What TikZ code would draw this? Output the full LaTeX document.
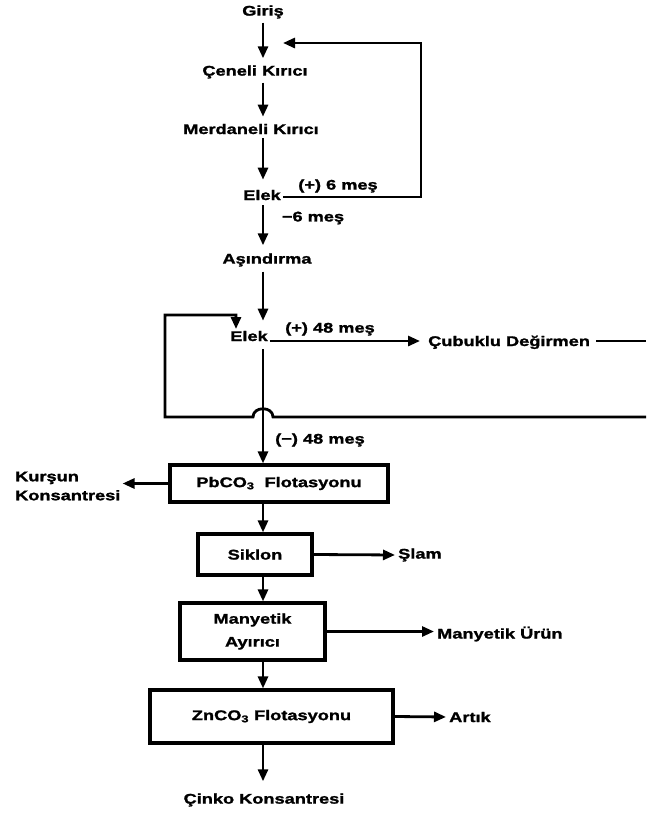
\documentclass[tikz,border=0pt]{standalone}
\usepackage{fontspec}
\setmainfont{Liberation Sans}[FakeStretch=1.3,FakeBold=1.5]
\usetikzlibrary{arrows.meta}
\begin{document}
\begin{tikzpicture}[x=1pt,y=-1pt,
  font=\fontsize{14}{16}\selectfont\bfseries,
  ln/.style={line width=2.8pt},
  arr/.style={ln,-{Triangle[length=12pt,width=10pt]}},
  box/.style={draw,line width=3.2pt,inner sep=0pt,align=center},
  lbl/.style={inner sep=0pt}]
\useasboundingbox (0,0) rectangle (646,817);
\coordinate (mx) at (263,0);
% text nodes
\node[lbl] (giris) at (263,12) {Giriş};
\node[lbl] (ceneli) at (255,72) {Çeneli Kırıcı};
\node[lbl] (merd) at (251,129) {Merdaneli Kırıcı};
\node[lbl,anchor=base] (elek1) at (262,200) {Elek};
\node[lbl] (p6) at (338,186) {(+) 6 meş};
\node[lbl] (m6) at (313,218) {−6 meş};
\node[lbl] (asind) at (267,260) {Aşındırma};
\node[lbl,anchor=base] (elek2) at (249,341) {Elek};
\node[lbl] (p48) at (330,329) {(+) 48 meş};
\node[lbl,anchor=base west] (cubuk) at (428,346) {Çubuklu Değirmen};
\node[lbl] (m48) at (320,440) {(−) 48 meş};
% boxes
\node[box,minimum width=218,minimum height=37] (pb) at (279,483.5) {PbCO\textsubscript{3}\ \ Flotasyonu};
\node[lbl,anchor=west,align=left] (kursun) at (15,486) {Kurşun\\[3pt]Konsantresi};
\node[box,minimum width=114,minimum height=41] (sk) at (255,554.5) {Siklon};
\node[lbl,anchor=west] (slam) at (398,555) {Şlam};
\node[box,minimum width=145,minimum height=57] (man) at (252.5,631.5) {Manyetik\\[7pt]Ayırıcı};
\node[lbl,anchor=west] (manu) at (437,634) {Manyetik Ürün};
\node[box,minimum width=243,minimum height=53] (zn) at (271.5,716.5) {ZnCO\textsubscript{3} Flotasyonu};
\node[lbl,anchor=west] (artik) at (449,717) {Artık};
\node[lbl] (cinko) at (264,800) {Çinko Konsantresi};
% coordinates for free ends
\coordinate (fb) at (421,43);
\coordinate (fbend) at (283,43);
\coordinate (redge1) at (646,341);
\coordinate (redge2) at (646,417);
\coordinate (loopend) at (236,329);
% connectors
\draw[arr,shorten <=4pt,shorten >=7pt] (giris.south -| mx) -- (ceneli.north -| mx);
\draw[arr,shorten <=4pt,shorten >=7pt] (ceneli.south -| mx) -- (merd.north -| mx);
\draw[arr,shorten <=4pt,shorten >=10pt] (merd.south -| mx) -- (elek1.north -| mx);
\draw[arr,shorten <=2pt] ([yshift=3pt]elek1.base east) -| (fb) -- (fbend);
\draw[arr,shorten <=5pt,shorten >=8pt] (elek1.south -| mx) -- (asind.north -| mx);
\draw[arr,shorten <=5pt,shorten >=10pt] (asind.south -| mx) -- (elek2.north -| mx);
\draw[arr,shorten <=2pt,shorten >=8pt] (elek2.base east) -- (cubuk.west |- elek2.base);
\draw[ln] ([xshift=6pt]cubuk.east |- redge1) -- (redge1);
\draw[arr] (redge2) -- (273,417) .. controls (273,406) and (253,406) .. (253,417)
   -- (165,417) -- (165,315) -| (loopend);
\draw[arr,shorten <=8pt] (elek2.south -| mx) -- (pb.north -| mx);
\draw[arr,shorten >=2pt] (pb.west) -- (kursun.east |- pb.west);
\draw[arr] (pb.south -| mx) -- (sk.north -| mx);
\draw[arr,shorten >=3pt] (sk.east) -- (slam.west);
\draw[arr] (sk.south -| mx) -- (man.north -| mx);
\draw[arr,shorten >=3pt] (man.east) -- (manu.west |- man.east);
\draw[arr] (man.south -| mx) -- (zn.north -| mx);
\draw[arr,shorten >=3pt] (zn.east) -- (artik.west);
\draw[arr,shorten >=12pt] (zn.south -| mx) -- (cinko.north -| mx);
\end{tikzpicture}
\end{document}
